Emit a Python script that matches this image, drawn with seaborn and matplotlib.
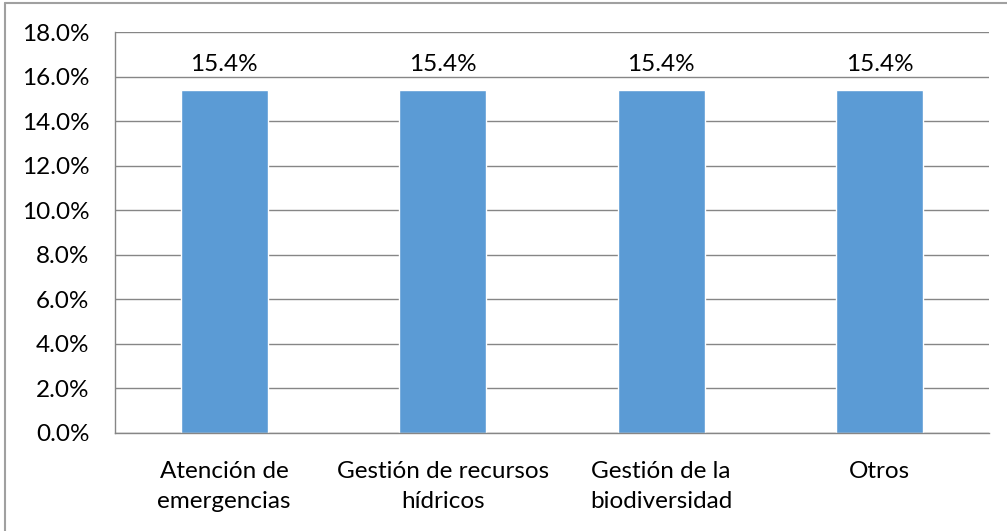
import matplotlib
matplotlib.use("Agg")
import matplotlib.pyplot as plt
import matplotlib.ticker as mticker
import seaborn as sns
import pandas as pd

categorias = ["Atención de\nemergencias", "Gestión de recursos\nhídricos",
              "Gestión de la\nbiodiversidad", "Otros"]
porcentajes = [15.4, 15.4, 15.4, 15.4]
y_ticks = [0, 2, 4, 6, 8, 10, 12, 14, 16, 18]

df = pd.DataFrame({"categoria": categorias, "porcentaje": porcentajes})

sns.set_style("white")
plt.rcParams['font.family'] = ['Lato', 'DejaVu Sans']
plt.rcParams['text.color'] = "black"

gris = "#868686"
tam = 17.5
fig = plt.figure(figsize=(10.07, 5.31), dpi=100)
ax = fig.add_axes([0.1142, 0.1846, 0.8679, 0.7551])

sns.barplot(data=df, x="categoria", y="porcentaje", color="#5B9BD5",
            width=0.4, saturation=1, ax=ax)

ax.set_ylim(0, 18)
ax.set_xlim(-0.5, len(categorias) - 0.5)
ax.set_yticks(y_ticks)
ax.yaxis.set_major_formatter(mticker.FuncFormatter(lambda v, p: f"{v:.1f}%"))
ax.grid(axis="y", color=gris, linewidth=1)
ax.set_axisbelow(True)

for s in ["top", "right"]:
    ax.spines[s].set_visible(False)
for s in ["left", "bottom"]:
    ax.spines[s].set_color(gris)
    ax.spines[s].set_linewidth(1)

ax.set_xlabel("")
ax.set_ylabel("")
ax.tick_params(axis="y", length=6.5, color=gris, width=1, labelsize=tam,
               pad=12, labelcolor="black")
ax.tick_params(axis="x", which="major", length=0, labelsize=tam, pad=20,
               labelcolor="black")
ax.set_xticks([i + 0.5 for i in range(-1, len(categorias))], minor=True)
ax.tick_params(axis="x", which="minor", length=6.5, color=gris, width=1)
for lbl in ax.get_xticklabels():
    lbl.set_linespacing(1.55)

ax.bar_label(ax.containers[0], labels=[f"{v:.1f}%" for v in porcentajes],
             padding=11, fontsize=tam, color="black")

# borde del gráfico
fig.add_artist(plt.Line2D([5 / 1007, 5 / 1007], [0, 1 - 3 / 531], color="#A0A0A0",
                          linewidth=1.5, transform=fig.transFigure))
fig.add_artist(plt.Line2D([5 / 1007, 1], [1 - 3 / 531, 1 - 3 / 531], color="#A0A0A0",
                          linewidth=1.5, transform=fig.transFigure))

fig.savefig("out.png", dpi=100)
